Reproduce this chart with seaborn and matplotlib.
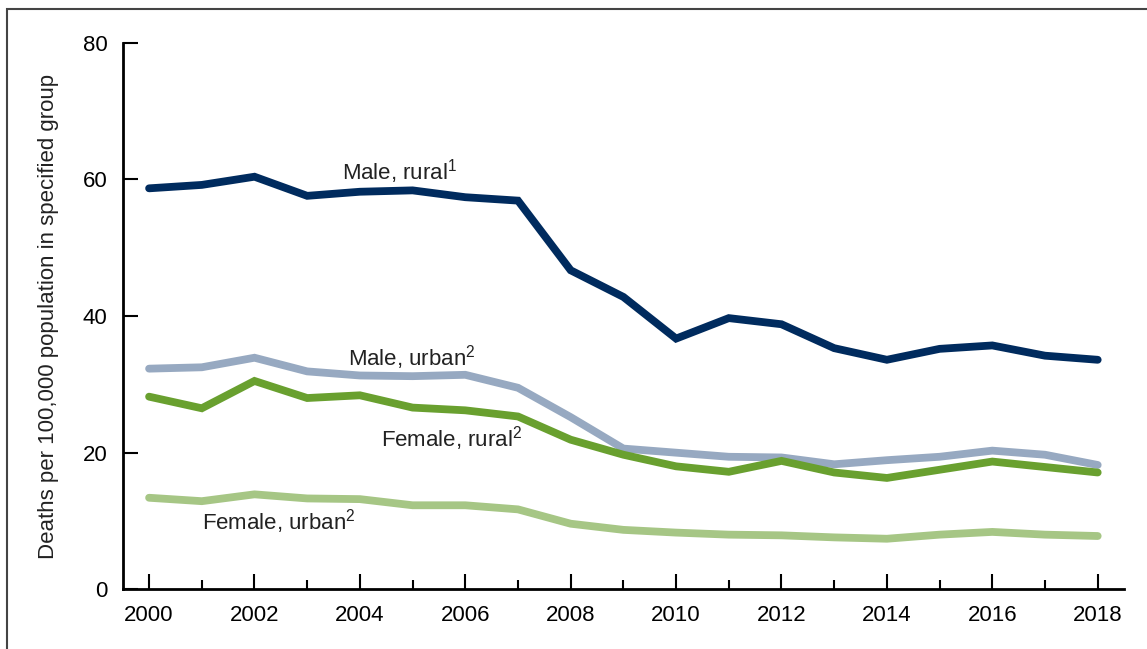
import pandas as pd
import matplotlib
matplotlib.use('Agg')
import matplotlib.pyplot as plt
import seaborn as sns
from matplotlib.patches import Rectangle
from matplotlib.ticker import MultipleLocator

years = list(range(2000, 2019))
male_rural = [58.7, 59.2, 60.4, 57.6, 58.2, 58.4, 57.4, 56.9, 46.7, 42.8,
              36.7, 39.7, 38.8, 35.3, 33.6, 35.2, 35.7, 34.2, 33.6]
male_urban = [32.3, 32.5, 33.9, 31.9, 31.3, 31.2, 31.4, 29.5, 25.2, 20.6,
              20.0, 19.4, 19.3, 18.3, 18.9, 19.4, 20.3, 19.7, 18.2]
female_rural = [28.2, 26.5, 30.5, 28.0, 28.4, 26.6, 26.2, 25.3, 21.9, 19.7,
                18.0, 17.2, 18.8, 17.1, 16.3, 17.5, 18.7, 17.9, 17.1]
female_urban = [13.4, 12.9, 13.9, 13.3, 13.2, 12.3, 12.3, 11.7, 9.6, 8.7,
                8.3, 8.0, 7.9, 7.6, 7.4, 8.0, 8.4, 8.0, 7.8]

groups = ['Male, rural', 'Male, urban', 'Female, rural', 'Female, urban']
colors = ['#002B5E', '#97A9C1', '#69A02F', '#A6C685']

df = pd.DataFrame({
    'year': years * 4,
    'rate': male_rural + male_urban + female_rural + female_urban,
    'group': [g for g in groups for _ in years],
})

sns.set_style('white')
plt.rcParams['font.family'] = ['Liberation Sans', 'DejaVu Sans']
fs = 16

fig = plt.figure(figsize=(11.47, 6.49), dpi=100)
ax = fig.add_axes([0.107, 0.092, 0.873, 0.842])

sns.lineplot(data=df, x='year', y='rate', hue='group', palette=colors,
             linewidth=5.6, legend=False, ax=ax, solid_joinstyle='miter')

ax.set_xlim(1999.5, 2018.5)
ax.set_ylim(0, 80)
ax.xaxis.set_major_locator(MultipleLocator(2))
ax.xaxis.set_minor_locator(MultipleLocator(1))
ax.yaxis.set_major_locator(MultipleLocator(20))
ax.tick_params(axis='both', which='major', direction='in', length=10.5,
               width=1.5, color='black', labelsize=fs, labelcolor='black')
ax.tick_params(axis='x', which='minor', direction='in', length=6.5,
               width=1.5, color='black', bottom=True)
ax.tick_params(axis='x', which='major', pad=11, bottom=True)
ax.tick_params(axis='y', which='major', pad=11, left=True)

for side in ['top', 'right']:
    ax.spines[side].set_visible(False)
for side in ['left', 'bottom']:
    ax.spines[side].set_color('black')
    ax.spines[side].set_linewidth(2)

ax.set_xlabel('')
ax.set_ylabel('Deaths per 100,000 population in specified group',
              fontsize=fs, color='#222222', labelpad=17)

ax.text(2003.67, 61.1, 'Male, rural$\\mathregular{^1}$', fontsize=fs,
        color='#222222', va='center', ha='left')
ax.text(2003.77, 33.9, 'Male, urban$\\mathregular{^2}$', fontsize=fs,
        color='#222222', va='center', ha='left')
ax.text(2004.41, 22.1, 'Female, rural$\\mathregular{^2}$', fontsize=fs,
        color='#222222', va='center', ha='left')
ax.text(2001.01, 9.85, 'Female, urban$\\mathregular{^2}$', fontsize=fs,
        color='#222222', va='center', ha='left')

# outer frame (only left and top edges visible in the original)
fig.patches.append(Rectangle((7.3 / 1147, -0.1), 1.2, 1.1 - 9 / 649,
                             transform=fig.transFigure, fill=False,
                             edgecolor='#444444', linewidth=1.5))

fig.savefig('out.png', dpi=100)
